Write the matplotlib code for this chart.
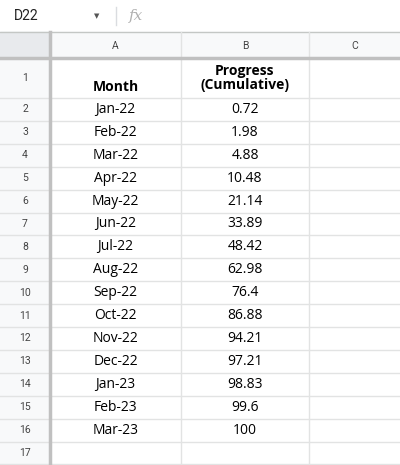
import matplotlib.pyplot as plt
from matplotlib.patches import Rectangle

months = ["Jan-22", "Feb-22", "Mar-22", "Apr-22", "May-22", "Jun-22", "Jul-22", "Aug-22",
          "Sep-22", "Oct-22", "Nov-22", "Dec-22", "Jan-23", "Feb-23", "Mar-23"]
progress = ["0.72", "1.98", "4.88", "10.48", "21.14", "33.89", "48.42", "62.98",
            "76.4", "86.88", "94.21", "97.21", "98.83", "99.6", "100"]
columns = ["A", "B", "C"]

W, H = 400, 465
COL_X = [0, 50, 181, 309, 400]
HDR_TOP, HDR_BOT = 32, 58
ROW1_BOT = 98
ROW_H = 22.9
GRID = "#e2e3e3"

fig = plt.figure(figsize=(W / 100, H / 100), dpi=100)
ax = fig.add_axes([0, 0, 1, 1])
ax.set_xlim(0, W)
ax.set_ylim(H, 0)
ax.axis("off")

# formula bar
ax.text(14, 16, "D22", fontsize=10, family="Roboto", va="center", color="#222222")
ax.text(97, 16, "\u25BC", fontsize=5, va="center", ha="center", color="#555555")
ax.plot([116, 116], [7, 25], color="#dadce0", lw=1)
ax.text(129, 16, "fx", fontsize=11, style="italic", family="DejaVu Serif", va="center", color="#b0b0b0")
ax.plot([0, W], [HDR_TOP, HDR_TOP], color="#c4c7c5", lw=1)

# header backgrounds
ax.add_patch(Rectangle((0, HDR_TOP), W, HDR_BOT - HDR_TOP, color="#f8f9fa", zorder=0))
ax.add_patch(Rectangle((0, HDR_BOT), COL_X[1], H - HDR_BOT, color="#f8f9fa", zorder=0))
ax.add_patch(Rectangle((0, HDR_TOP), COL_X[1], HDR_BOT - HDR_TOP, color="#e8eaed", zorder=1))
ax.plot([COL_X[1], COL_X[1]], [HDR_TOP, H], color="#c0c0c0", lw=2.5, zorder=3)
ax.plot([0, W], [HDR_BOT, HDR_BOT], color="#c0c0c0", lw=2.5, zorder=3)

row_edges = [HDR_BOT, ROW1_BOT] + [ROW1_BOT + ROW_H * (i + 1) for i in range(len(months) + 1)]
for y in row_edges[1:]:
    ax.plot([0, W], [y, y], color=GRID, lw=1, zorder=2)
for x in COL_X[2:4]:
    ax.plot([x, x], [HDR_TOP, H], color=GRID, lw=1, zorder=2)

for i, c in enumerate(columns):
    ax.text((COL_X[i + 1] + COL_X[i + 2]) / 2, (HDR_TOP + HDR_BOT) / 2 + 1, c,
            fontsize=7.5, family="Roboto", ha="center", va="center", color="#444444")

for r in range(len(row_edges) - 1):
    ax.text(COL_X[1] / 2, (row_edges[r] + row_edges[r + 1]) / 2, str(r + 1),
            fontsize=7.5, family="Roboto", ha="center", va="center", color="#444444")

# header row
ax.text((COL_X[1] + COL_X[2]) / 2, ROW1_BOT - 11, "Month", fontsize=10, weight="bold",
        family="Open Sans", ha="center", va="center", color="black")
ax.text((COL_X[2] + COL_X[3]) / 2, ROW1_BOT - 20, "Progress\n(Cumulative)", fontsize=10,
        weight="bold", family="Open Sans", ha="center", va="center", color="black",
        linespacing=1.05)

for i, (m, p) in enumerate(zip(months, progress)):
    yc = (row_edges[i + 1] + row_edges[i + 2]) / 2
    ax.text((COL_X[1] + COL_X[2]) / 2, yc, m, fontsize=10, family="Open Sans",
            ha="center", va="center", color="black")
    ax.text((COL_X[2] + COL_X[3]) / 2, yc, p, fontsize=10, family="Open Sans",
            ha="center", va="center", color="black")

fig.savefig("out.png", dpi=100)
